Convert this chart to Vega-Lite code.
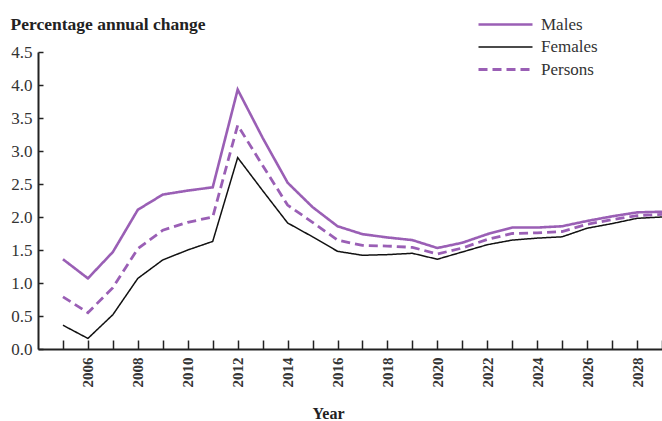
{
  "$schema": "https://vega.github.io/schema/vega-lite/v6.json",
  "width": 624,
  "height": 297,
  "autosize": {"type": "none"},
  "padding": {"left": 38, "top": 52, "right": 0, "bottom": 72},
  "background": "white",
  "config": {
    "view": {"stroke": null},
    "font": "Liberation Serif",
    "legend": {
      "title": null,
      "orient": "none",
      "legendX": 456,
      "legendY": -39,
      "symbolType": "M-2.7,0H2.7",
      "symbolSize": 400,
      "labelFont": "Liberation Serif",
      "labelFontSize": 17,
      "labelColor": "#333",
      "labelOffset": 24,
      "rowPadding": 3
    }
  },
  "data": {
    "values": [
      {"Year": 2005, "Males": 1.36, "Females": 0.36, "Persons": 0.79},
      {"Year": 2006, "Males": 1.07, "Females": 0.16, "Persons": 0.55},
      {"Year": 2007, "Males": 1.47, "Females": 0.52, "Persons": 0.93},
      {"Year": 2008, "Males": 2.11, "Females": 1.07, "Persons": 1.52},
      {"Year": 2009, "Males": 2.34, "Females": 1.35, "Persons": 1.80},
      {"Year": 2010, "Males": 2.40, "Females": 1.50, "Persons": 1.92},
      {"Year": 2011, "Males": 2.45, "Females": 1.63, "Persons": 2.00},
      {"Year": 2012, "Males": 3.93, "Females": 2.90, "Persons": 3.39},
      {"Year": 2013, "Males": 3.20, "Females": 2.40, "Persons": 2.78},
      {"Year": 2014, "Males": 2.52, "Females": 1.91, "Persons": 2.18},
      {"Year": 2015, "Males": 2.15, "Females": 1.70, "Persons": 1.92},
      {"Year": 2016, "Males": 1.86, "Females": 1.48, "Persons": 1.65},
      {"Year": 2017, "Males": 1.74, "Females": 1.42, "Persons": 1.57},
      {"Year": 2018, "Males": 1.69, "Females": 1.43, "Persons": 1.56},
      {"Year": 2019, "Males": 1.65, "Females": 1.45, "Persons": 1.54},
      {"Year": 2020, "Males": 1.53, "Females": 1.36, "Persons": 1.44},
      {"Year": 2021, "Males": 1.61, "Females": 1.47, "Persons": 1.53},
      {"Year": 2022, "Males": 1.74, "Females": 1.58, "Persons": 1.66},
      {"Year": 2023, "Males": 1.84, "Females": 1.65, "Persons": 1.75},
      {"Year": 2024, "Males": 1.84, "Females": 1.68, "Persons": 1.76},
      {"Year": 2025, "Males": 1.86, "Females": 1.70, "Persons": 1.78},
      {"Year": 2026, "Males": 1.94, "Females": 1.83, "Persons": 1.89},
      {"Year": 2027, "Males": 2.01, "Females": 1.90, "Persons": 1.96},
      {"Year": 2028, "Males": 2.07, "Females": 1.98, "Persons": 2.02},
      {"Year": 2029, "Males": 2.08, "Females": 2.00, "Persons": 2.04}
    ]
  },
  "transform": [
    {"fold": ["Males", "Females", "Persons"], "as": ["Series", "Value"]}
  ],
  "mark": {"type": "line", "clip": false},
  "encoding": {
    "x": {
      "field": "Year",
      "type": "quantitative",
      "scale": {"domain": [2004, 2029], "nice": false, "zero": false},
      "axis": {
        "title": "Year",
        "titleFont": "Liberation Serif",
        "titleFontSize": 16,
        "titleFontWeight": "bold",
        "titleColor": "#222",
        "titleX": 290,
        "titleY": 69,
        "titleAnchor": null,
        "titleAlign": "center",
        "titleBaseline": "alphabetic",
        "values": [2005, 2006, 2007, 2008, 2009, 2010, 2011, 2012, 2013, 2014, 2015, 2016, 2017, 2018, 2019, 2020, 2021, 2022, 2023, 2024, 2025, 2026, 2027, 2028, 2029],
        "labelExpr": "datum.value % 2 == 0 ? datum.value : ''",
        "labelAngle": -90,
        "labelFont": "Liberation Serif",
        "labelFontSize": 15,
        "labelFontWeight": "bold",
        "labelColor": "#333",
        "labelPadding": 17,
        "tickSize": -9,
        "tickColor": "#222",
        "tickWidth": 1.5,
        "domainColor": "#222",
        "domainWidth": 2,
        "grid": false,
        "labelOverlap": false
      }
    },
    "y": {
      "field": "Value",
      "type": "quantitative",
      "scale": {"domain": [0, 4.5], "nice": false},
      "axis": {
        "title": "Percentage annual change",
        "titleFont": "Liberation Serif",
        "titleFontSize": 17.5,
        "titleFontWeight": "bold",
        "titleColor": "#222",
        "titleAngle": 0,
        "titleX": -28,
        "titleY": -23,
        "titleAlign": "left",
        "titleBaseline": "alphabetic",
        "titleAnchor": null,
        "values": [0, 0.5, 1, 1.5, 2, 2.5, 3, 3.5, 4, 4.5],
        "format": ".1f",
        "labelFont": "Liberation Serif",
        "labelFontSize": 17,
        "labelColor": "#333",
        "labelPadding": 11,
        "tickSize": -5,
        "tickColor": "#222",
        "tickWidth": 1.5,
        "domainColor": "#222",
        "domainWidth": 2,
        "grid": false
      }
    },
    "color": {
      "field": "Series",
      "type": "nominal",
      "scale": {"domain": ["Males", "Females", "Persons"], "range": ["#9a5fb5", "#111111", "#9a5fb5"]}
    },
    "strokeDash": {
      "field": "Series",
      "type": "nominal",
      "scale": {"domain": ["Males", "Females", "Persons"], "range": [[1, 0], [1, 0], [9, 5]]}
    },
    "strokeWidth": {
      "field": "Series",
      "type": "nominal",
      "scale": {"type": "ordinal", "domain": ["Males", "Females", "Persons"], "range": [2.6, 1.5, 2.8]}
    }
  }
}
